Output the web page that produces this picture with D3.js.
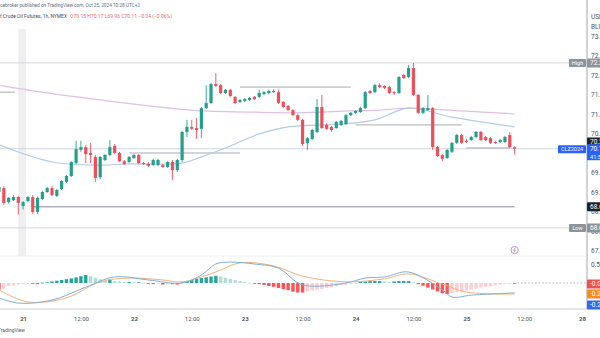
<!DOCTYPE html>
<html><head><meta charset="utf-8">
<script src="https://cdn.jsdelivr.net/npm/d3@7"></script>
<style>html,body{margin:0;padding:0;background:#fff;overflow:hidden}svg{display:block;font-family:Roboto,"DejaVu Sans",sans-serif}</style>
</head><body><svg id="c" width="600" height="338"></svg>
<script>
// ---- data ----
const openP  = [69.00,69.10,68.74,68.79,68.87,68.64,68.77,68.87,68.49,68.82,69.00,69.10,68.90,69.08,69.26,69.41,69.74,70.08,70.15,70.00,69.90,69.38,69.82,69.95,70.18,70.00,69.79,69.77,69.87,69.95,69.74,69.72,69.69,69.69,69.69,69.64,69.77,69.56,69.82,70.54,70.67,70.64,70.62,71.15,71.28,71.77,71.74,71.54,71.62,71.44,71.31,71.33,71.36,71.44,71.44,71.51,71.54,71.56,71.56,71.31,71.21,71.10,70.97,70.85,70.26,70.36,70.54,71.18,70.72,70.67,70.64,70.72,70.74,70.97,71.03,71.05,71.15,71.59,71.56,71.74,71.72,71.69,71.56,71.54,72.00,71.95,72.18,71.49,71.03,71.10,71.15,70.15,69.95,69.87,70.03,70.26,70.46,70.31,70.33,70.41,70.54,70.41,70.38,70.28,70.28,70.28,70.46,70.15];
const highP  = [69.18,69.15,68.87,68.92,68.90,68.77,68.90,68.92,68.88,69.03,69.13,69.15,69.08,69.31,69.44,69.79,70.31,70.31,70.21,70.26,69.95,69.92,69.97,70.33,70.23,70.03,69.82,69.92,69.97,69.97,69.77,69.77,69.85,69.85,69.72,69.79,69.82,69.85,70.56,70.85,70.85,70.90,71.18,71.74,71.79,72.05,71.77,71.64,71.64,71.46,71.38,71.41,71.44,71.46,71.62,71.59,71.62,71.64,71.62,71.33,71.23,71.13,71.00,70.88,70.41,70.62,71.38,71.49,70.77,70.69,70.82,70.85,71.00,71.05,71.10,71.18,71.59,71.62,71.77,71.79,71.74,71.72,71.59,71.97,72.03,72.26,72.31,71.51,71.18,71.49,71.18,70.18,69.97,70.10,70.28,70.49,70.49,70.36,70.44,70.56,70.56,70.44,70.41,70.31,70.36,70.44,70.54,70.17];
const lowP   = [68.95,68.67,68.70,68.77,68.42,68.55,68.74,68.44,68.44,68.79,68.97,68.90,68.87,69.05,69.23,69.38,69.72,70.03,69.74,69.74,69.26,69.33,69.79,69.92,69.97,69.77,69.69,69.74,69.85,69.72,69.69,69.64,69.67,69.67,69.62,69.62,69.31,69.51,69.77,70.41,70.59,70.36,70.38,71.13,71.26,71.69,71.51,71.51,71.44,71.26,71.28,71.31,71.33,71.36,71.41,71.49,71.51,71.54,71.26,71.15,71.08,70.95,70.82,70.18,70.08,70.33,70.51,70.62,70.59,70.54,70.62,70.69,70.72,70.95,71.00,71.03,71.13,71.51,71.54,71.67,71.64,71.51,71.49,71.51,71.90,71.92,71.46,71.00,71.00,71.08,70.08,69.90,69.79,69.85,70.00,70.23,70.23,70.26,70.31,70.38,70.31,70.31,70.23,70.23,70.26,70.26,70.13,69.96];
const closeP = [69.13,68.72,68.85,68.87,68.72,68.74,68.87,68.49,68.85,69.00,69.10,68.92,69.05,69.28,69.41,69.77,70.10,70.15,69.97,69.95,69.36,69.90,69.95,70.15,70.00,69.79,69.72,69.90,69.95,69.74,69.72,69.67,69.82,69.82,69.64,69.77,69.56,69.82,70.54,70.67,70.62,70.59,71.15,71.28,71.77,71.72,71.54,71.62,71.46,71.28,71.36,71.38,71.41,71.38,71.54,71.56,71.59,71.59,71.28,71.18,71.10,70.97,70.85,70.23,70.38,70.59,71.18,70.64,70.62,70.59,70.80,70.82,70.97,71.03,71.08,71.15,71.56,71.54,71.74,71.69,71.67,71.54,71.54,71.95,71.92,72.18,71.49,71.03,71.15,71.15,70.15,69.92,69.85,70.08,70.26,70.46,70.26,70.28,70.41,70.54,70.33,70.33,70.26,70.26,70.33,70.41,70.15,70.11];

const maSlowIdx = [0,10,21,31,42,52,62,73,79,85,96,107];
const maSlow    = [71.74,71.54,71.36,71.21,71.08,71.05,71.03,71.08,71.10,71.15,71.08,71.00];
const maFastIdx = [0,11,21,27,38,42,48,54,60,71,78,85,94,107];
const maFast    = [70.21,69.77,69.69,69.72,69.74,69.90,70.18,70.49,70.67,70.74,70.85,71.15,70.92,70.67];

const levelPrice = [71.56,70.00,71.69,70.72,70.13,68.62];
const levelFrom  = [0,27,50,74,97,7];
const levelTo    = [3.3,50,73,96,106,107];

const highValue = 72.31, lowValue = 68.08, lastValue = 70.11;
const markPrices = [70.28,68.62];

const priceTicks = [67.5,68,68.5,69,69.5,70.5,71,71.5,72,72.5,73];
const xTickIdx  = [5,17,28,40,51,63,74,86,97,109,121];
const xTickText = ["21","12:00","22","12:00","23","12:00","24","12:00","25","12:00","28"];

const macdHist = [-0.17,-0.15,-0.08,-0.06,-0.04,-0.03,-0.02,-0.02,-0.03,0.01,0.02,0.04,0.06,0.08,0.10,0.12,0.15,0.18,0.21,0.18,0.14,0.10,0.06,0.09,0.05,0.04,0.03,0.03,0.02,0.02,0.01,-0.02,-0.03,-0.02,-0.04,-0.03,-0.03,-0.04,0.02,0.05,0.08,0.11,0.13,0.15,0.17,0.19,0.17,0.14,0.11,0.08,0.05,0.03,0.01,-0.01,-0.03,-0.05,-0.08,-0.10,-0.13,-0.16,-0.19,-0.23,-0.25,-0.25,-0.22,-0.20,-0.18,-0.16,-0.13,-0.11,-0.09,-0.06,-0.04,-0.02,-0.01,0.03,0.04,0.05,0.05,0.05,0.04,0.03,0.04,0.05,0.05,0.05,0.02,-0.03,-0.07,-0.12,-0.17,-0.22,-0.27,-0.29,-0.26,-0.24,-0.22,-0.20,-0.17,-0.15,-0.12,-0.10,-0.08,-0.06,-0.04,-0.02,-0.01,-0.01];
const macdIdx  = [0,4,11,18,24,31,38,42,45,48,53,58,63,72,76,80,85,92,94,98,107];
const macdLine = [-0.39,-0.53,-0.45,-0.11,0.16,0.08,0.00,0.21,0.50,0.55,0.50,0.39,-0.05,0.00,0.13,0.16,0.29,-0.18,-0.37,-0.32,-0.26];
const sigIdx   = [0,6,14,21,27,34,38,45,50,57,63,72,80,85,92,97,107];
const sigLine  = [-0.18,-0.50,-0.39,0.03,0.13,0.08,0.03,0.29,0.53,0.45,0.18,0.03,0.11,0.24,-0.03,-0.24,-0.29];

// ---- drawing ----
const svg = d3.select("#c");
const axisX = 587, paneBot = 256, macdBot = 309;
const x  = d3.scaleLinear().domain([0,107]).range([-1,514.6]);
const y  = d3.scaleLinear().domain([67.5,73]).range([250.5,36]);
const ym = d3.scaleLinear().domain([0,0.5]).range([283,264]);
const UP = "#22a08c", DN = "#ef4f5b";

const defs = svg.append("defs");
defs.append("clipPath").attr("id","cm").append("rect").attr("x",0).attr("y",0).attr("width",axisX).attr("height",paneBot);
defs.append("clipPath").attr("id","cd").append("rect").attr("x",0).attr("y",paneBot).attr("width",axisX).attr("height",macdBot-paneBot);

svg.append("rect").attr("x",x(4)).attr("y",29).attr("width",x(5.6)-x(4)).attr("height",paneBot-29).attr("fill","#efeff2");

const main = svg.append("g").attr("clip-path","url(#cm)");
const macd = svg.append("g").attr("clip-path","url(#cd)");

main.append("line").attr("x1",0).attr("x2",axisX).attr("y1",y(highValue)).attr("y2",y(highValue)).attr("stroke","#d8d8dc");
main.append("line").attr("x1",0).attr("x2",axisX).attr("y1",y(lowValue)).attr("y2",y(lowValue)).attr("stroke","#d8d8dc");
main.append("line").attr("x1",0).attr("x2",axisX).attr("y1",y(lastValue)).attr("y2",y(lastValue)).attr("stroke","#c3cad8").attr("stroke-width",0.8);

levelPrice.forEach((p,k)=>{
  main.append("line").attr("x1",x(levelFrom[k])).attr("x2",x(levelTo[k]))
    .attr("y1",y(p)).attr("y2",y(p))
    .attr("stroke", k===5 ? "#8a8d96" : "#a9abb2").attr("stroke-width",1);
});

const lineGen = d3.line().curve(d3.curveCatmullRom);
main.append("path").attr("d",lineGen(maSlowIdx.map((d,k)=>[x(d),y(maSlow[k])])))
  .attr("fill","none").attr("stroke","#dfc0e0").attr("stroke-width",1.2);
main.append("path").attr("d",lineGen(maFastIdx.map((d,k)=>[x(d),y(maFast[k])])))
  .attr("fill","none").attr("stroke","#b4cbe4").attr("stroke-width",1.2);

const bw = 3.2;
const cg = main.append("g");
openP.forEach((o,i)=>{
  const c = closeP[i], col = c>=o ? UP : DN;
  cg.append("line").attr("x1",x(i)).attr("x2",x(i)).attr("y1",y(highP[i])).attr("y2",y(lowP[i])).attr("stroke",col).attr("stroke-width",0.9);
  const t = Math.min(y(o),y(c)), h = Math.max(1,Math.abs(y(o)-y(c)));
  cg.append("rect").attr("x",x(i)-bw/2).attr("y",t).attr("width",bw).attr("height",h).attr("fill",col);
});

svg.append("circle").attr("cx",x(107)).attr("cy",250).attr("r",3.6).attr("fill","#fff").attr("stroke","#a77bc0").attr("stroke-width",0.8);
svg.append("path").attr("d",`M${x(107)+0.8},${247.6} L${x(107)-1},${250.4} L${x(107)+0.8},${250} L${x(107)-0.6},${252.6}`).attr("fill","none").attr("stroke","#a77bc0").attr("stroke-width",0.7);

svg.append("line").attr("x1",0).attr("x2",axisX).attr("y1",paneBot).attr("y2",paneBot).attr("stroke","#eceef2");
svg.append("line").attr("x1",0).attr("x2",axisX).attr("y1",macdBot).attr("y2",macdBot).attr("stroke","#c9ccd3");
svg.append("line").attr("x1",axisX).attr("x2",axisX).attr("y1",0).attr("y2",macdBot).attr("stroke","#a3a6ad");

macdHist.forEach((v,i)=>{
  const prev = i>0 ? macdHist[i-1] : v;
  let col;
  if (v>=0) col = v>=prev ? "#26a69a" : "#b2dfdb";
  else col = v<=prev ? "#ff5252" : "#ffcdd2";
  const t = Math.min(ym(v),ym(0)), h = Math.max(0.8,Math.abs(ym(v)-ym(0)));
  macd.append("rect").attr("x",x(i)-1.7).attr("y",t).attr("width",3.4).attr("height",h).attr("fill",col);
});
macd.append("path").attr("d",lineGen(sigIdx.map((d,k)=>[x(d),ym(sigLine[k])])))
  .attr("fill","none").attr("stroke","#f2b27c").attr("stroke-width",1);
macd.append("path").attr("d",lineGen(macdIdx.map((d,k)=>[x(d),ym(macdLine[k])])))
  .attr("fill","none").attr("stroke","#7fb0d8").attr("stroke-width",1);
svg.append("line").attr("x1",x(107)+3).attr("x2",axisX).attr("y1",ym(0)).attr("y2",ym(0)).attr("stroke","#b0b3ba").attr("stroke-dasharray","1.5,2");

const pa = svg.append("g").attr("transform",`translate(${axisX},0)`)
  .call(d3.axisRight(y).tickValues(priceTicks).tickSize(0).tickPadding(4).tickFormat(d3.format(".2f")));
pa.select(".domain").remove();
pa.selectAll("text").attr("font-size",6.5).attr("fill","#50535e").attr("font-family","Roboto, sans-serif");

const ma = svg.append("g").attr("transform",`translate(${axisX},0)`)
  .call(d3.axisRight(ym).tickValues([0.5]).tickSize(0).tickPadding(4).tickFormat(d3.format(".2f")));
ma.select(".domain").remove();
ma.selectAll("text").attr("font-size",6.5).attr("fill","#50535e").attr("font-family","Roboto, sans-serif");

svg.append("text").attr("x",591).attr("y",19).attr("font-size",6.5).attr("fill","#50535e").text("USD");
svg.append("text").attr("x",591).attr("y",29).attr("font-size",6.5).attr("fill","#50535e").text("BLU");

const xa = svg.append("g").attr("transform",`translate(0,${macdBot})`)
  .call(d3.axisBottom(x).tickValues(xTickIdx).tickSize(0).tickPadding(8).tickFormat((d,k)=>xTickText[k]));
xa.select(".domain").remove();
xa.selectAll("text").attr("font-size",6).attr("fill","#50535e").attr("font-family","Roboto, sans-serif")
  .attr("font-weight",(d,k)=>xTickText[k].includes(":")?400:700);

function box(yc, bg, txt, fg){
  svg.append("rect").attr("x",axisX).attr("y",yc-4.5).attr("width",20).attr("height",9).attr("fill",bg).attr("rx",1);
  svg.append("text").attr("x",axisX+3).attr("y",yc+2.3).attr("font-size",6.5).attr("fill",fg||"#fff").text(txt);
}
function tag(yc, bg, txt, x0, w){
  svg.append("rect").attr("x",x0).attr("y",yc-4).attr("width",w).attr("height",8).attr("fill",bg).attr("rx",1);
  svg.append("text").attr("x",x0+w/2).attr("y",yc+2.2).attr("text-anchor","middle").attr("font-size",5.5).attr("fill","#fff").text(txt);
}
tag(y(highValue),"#8f9299","High",569,17);
box(y(highValue),"#8f9299",highValue.toFixed(2));
tag(y(lowValue),"#8f9299","Low",569,17);
box(y(lowValue),"#8f9299",lowValue.toFixed(2));
box(y(markPrices[0]),"#1e222d",markPrices[0].toFixed(2));
box(y(markPrices[1]),"#1e222d",markPrices[1].toFixed(2));
tag(y(lastValue)+0.5,"#2962ff","CLZ2024",558,28);
svg.append("rect").attr("x",axisX).attr("y",y(lastValue)-4.5).attr("width",20).attr("height",16).attr("fill","#2962ff");
svg.append("text").attr("x",axisX+3).attr("y",y(lastValue)+2).attr("font-size",6.3).attr("fill","#fff").text(lastValue.toFixed(2));
svg.append("text").attr("x",axisX+3).attr("y",y(lastValue)+9.8).attr("font-size",5.6).attr("fill","#fff").text("41:52");
box(284,"#f05050","-0.01");
box(294,"#ff8a1e","-0.29");
box(305,"#2f6bf0","-0.26");

svg.append("text").attr("x",0).attr("y",7).attr("font-size",5).attr("fill","#6a6d78")
  .attr("textLength",140).attr("lengthAdjust","spacingAndGlyphs")
  .text("cebroker published on TradingView.com, Oct 25, 2024 10:28 UTC+2");
svg.append("text").attr("x",0).attr("y",18).attr("font-size",5).attr("fill","#4a4d58")
  .attr("textLength",67).attr("lengthAdjust","spacingAndGlyphs")
  .text("t Crude Oil Futures, 1h, NYMEX");
svg.append("text").attr("x",70).attr("y",18).attr("font-size",5).attr("fill","#ee6670")
  .attr("textLength",102).attr("lengthAdjust","spacingAndGlyphs")
  .text("O70.15  H70.17  L69.96  C70.11  −0.04 (−0.06%)");
svg.append("text").attr("x",-2).attr("y",332).attr("font-size",5).attr("fill","#555")
  .attr("textLength",27).attr("lengthAdjust","spacingAndGlyphs").text("TradingView");
</script>
</body></html>
